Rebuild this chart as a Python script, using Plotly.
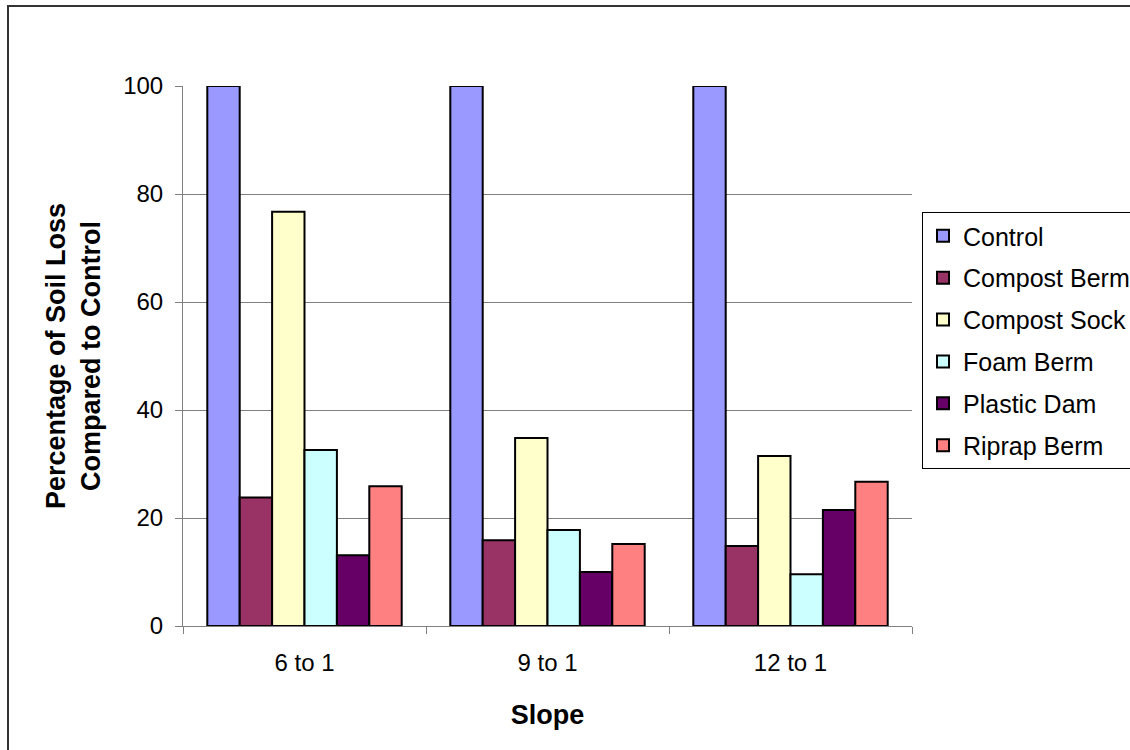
import plotly.graph_objects as go

categories = ["6 to 1", "9 to 1", "12 to 1"]
series_names = ["Control", "Compost Berm", "Compost Sock", "Foam Berm", "Plastic Dam", "Riprap Berm"]
control = [100, 100, 100]
compost_berm = [23.8, 15.9, 14.8]
compost_sock = [76.7, 34.8, 31.5]
foam_berm = [32.6, 17.8, 9.6]
plastic_dam = [13.1, 10.0, 21.5]
riprap_berm = [25.9, 15.2, 26.7]
y_ticks = [0, 20, 40, 60, 80, 100]

series_values = [control, compost_berm, compost_sock, foam_berm, plastic_dam, riprap_berm]
colors = ["#9999FF", "#993366", "#FFFFCC", "#CCFFFF", "#660066", "#FF8080"]

W, H = 1130, 750
L, R, T, B = 183, 218, 86, 124
pw, ph = W - L - R, H - T - B

fig = go.Figure()
for name, vals, col in zip(series_names, series_values, colors):
    fig.add_trace(go.Bar(
        x=categories, y=vals, name=name, legendgroup=name,
        marker=dict(color=col, line=dict(color="black", width=2)),
    ))

def px_x(p):
    return (p - L) / pw

def px_y(p):
    return (H - B - p) / ph

fig.update_layout(
    width=W, height=H,
    margin=dict(l=L, r=R, t=T, b=B, autoexpand=False),
    paper_bgcolor="white", plot_bgcolor="white",
    barmode="group", bargap=0.2, bargroupgap=0,
    font=dict(family="Liberation Sans, Arial, sans-serif", color="black", size=24),
    showlegend=True,
    legend=dict(
        x=px_x(922), y=px_y(212), xanchor="left", yanchor="top",
        bordercolor="black", borderwidth=1, bgcolor="white",
        font=dict(size=25), tracegroupgap=6.4, traceorder="grouped",
        itemsizing="constant",
    ),
    xaxis=dict(
        showline=True, linecolor="#808080", linewidth=1,
        ticks="outside", tickson="boundaries", ticklen=7, tickcolor="#808080",
        tickfont=dict(size=24), showgrid=False, ticklabelstandoff=15,
        title=dict(text="<b>Slope</b>", font=dict(size=27), standoff=30),
    ),
    yaxis=dict(
        range=[0, 100], tickvals=y_ticks, showline=True, linecolor="#808080", linewidth=1,
        ticks="outside", ticklen=7, tickcolor="#808080",
        showgrid=True, gridcolor="#808080", gridwidth=1,
        tickfont=dict(size=24), zeroline=False, ticklabelstandoff=7,
        title=dict(text="<b>Percentage of Soil Loss<br>Compared to Control</b>", font=dict(size=27), standoff=14),
    ),
    shapes=[dict(
        type="rect", xref="paper", yref="paper",
        x0=px_x(8), x1=px_x(1140), y0=px_y(770), y1=px_y(6),
        line=dict(color="#333333", width=2), fillcolor="rgba(0,0,0,0)", layer="below",
    )],
)

fig.write_html(
    "out.html",
    config={"displayModeBar": False},
    post_script="document.body.style.margin='0';document.body.style.overflow='hidden';",
)
